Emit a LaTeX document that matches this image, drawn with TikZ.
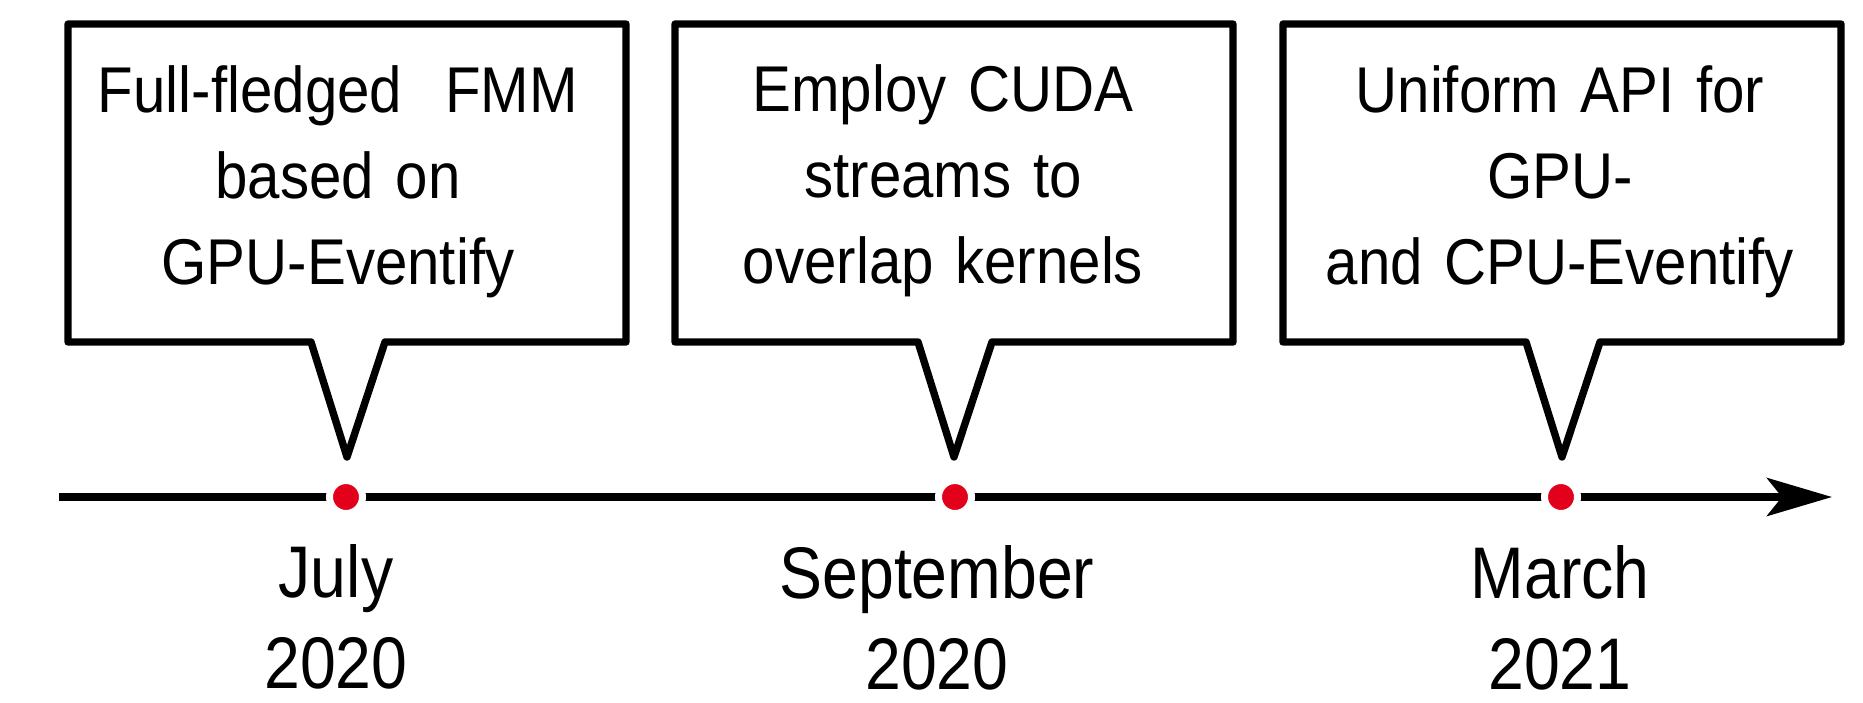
\documentclass[tikz,border=0pt]{standalone}
\usepackage{fontspec}
\setmainfont{Liberation Sans}
\newfontfamily\boxfont[FakeStretch=0.9]{Liberation Sans}
\newfontfamily\datefont[FakeStretch=0.88]{Liberation Sans}
\usetikzlibrary{arrows.meta}
\definecolor{dotred}{RGB}{226,0,26}
\begin{document}
\begin{tikzpicture}[x=0.01cm,y=-0.01cm,
  callout/.style={draw=black, line width=2.1pt, line join=round, fill=white},
  boxtext/.style={text width=5.2cm, align=center, anchor=base, inner sep=0pt,
    font=\boxfont\fontsize{18.4}{24.5}\selectfont},
  datetext/.style={text width=4cm, align=center, anchor=base, inner sep=0pt,
    font=\datefont\fontsize{20.8}{25.9}\selectfont},
  event/.style={circle, fill=dotred, draw=white, line width=0.07cm,
    minimum size=0.33cm, inner sep=0pt},
  axis/.style={line width=2.1pt, -{Stealth[length=0.65cm, width=0.38cm, inset=0.15cm]}}
]
\useasboundingbox (0,0) rectangle (1863,702);

% callout boxes
\foreach \L in {68,675,1283} {
  \draw[callout] (\L,24) -- ++(558,0) -- ++(0,318) -- ++(-241,0)
     -- ++(-38,115) -- ++(-36,-115) -- (\L,342) -- cycle;
}

% timeline
\coordinate (axisstart) at (59,497);
\coordinate (axisend) at (1832,497);
\draw[axis] (axisstart) -- (axisend);

% event dots
\node[event] (p1) at (346,497) {};
\node[event] (p2) at (955,497) {};
\node[event] (p3) at (1561,497) {};

% box texts
\node[boxtext] (t1) at (338,112) {Full-fledged\ \ FMM\\based on\\GPU-Eventify};
\node[boxtext] (t2) at (943,111) {Employ CUDA\\streams to\\overlap kernels};
\node[boxtext] (t3) at (1560,112) {Uniform API for\\GPU-\\and CPU-Eventify};

% dates
\node[datetext] (d1) at (336,597) {July\\2020};
\node[datetext] (d2) at (937,598) {September\\2020};
\node[datetext] (d3) at (1560,598) {March\\2021};
\end{tikzpicture}
\end{document}
